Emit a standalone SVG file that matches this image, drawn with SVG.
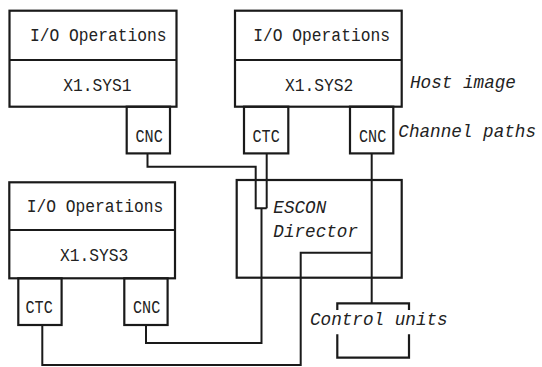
<svg xmlns="http://www.w3.org/2000/svg" width="542" height="367" viewBox="0 0 542 367">
<style>
.box{fill:none;stroke:#1a1a1a;stroke-width:2.2}
.ln{fill:none;stroke:#1a1a1a;stroke-width:2;stroke-linejoin:miter}
.t{font-family:"Liberation Mono","DejaVu Sans Mono",monospace;font-size:18.5px;fill:#222}
.i{font-family:"Liberation Mono","DejaVu Sans Mono",monospace;font-size:19px;font-style:italic;fill:#222}
</style>
<rect width="542" height="367" fill="#fff"/>
<g id="connectors">
<path class="ln" d="M147.5 153.3 V166.7 H255.7 V208.3 H266.7"/>
<path class="ln" d="M266.7 153.3 V208.3"/>
<path class="ln" d="M146 325 V343 H261.5 V208.3"/>
<path class="ln" d="M371.7 153.3 V303.3"/>
<path class="ln" d="M371.7 252.7 H300.7 V365 H42.3 V325"/>
</g>
<g id="host1">
<rect class="box" x="9.5" y="10.7" width="167" height="96"/>
<line class="box" x1="9.5" y1="60" x2="176.5" y2="60"/>
<text class="t" transform="translate(30,40.7) scale(0.88,1)">I/O Operations</text>
<text class="t" transform="translate(63.3,91) scale(0.88,1)">X1.SYS1</text>
</g>
<g id="cnc1">
<rect class="box" x="126.7" y="106.7" width="43.3" height="46.7"/>
<text class="t" transform="translate(135.5,141.7) scale(0.82,1)">CNC</text>
</g>
<g id="host2">
<rect class="box" x="235" y="10.7" width="166.7" height="96"/>
<line class="box" x1="235" y1="60" x2="401.7" y2="60"/>
<text class="t" transform="translate(253.3,40.7) scale(0.88,1)">I/O Operations</text>
<text class="t" transform="translate(285,91) scale(0.88,1)">X1.SYS2</text>
</g>
<g id="ctc2">
<rect class="box" x="244" y="106.7" width="44.3" height="46.7"/>
<text class="t" transform="translate(252.5,141.7) scale(0.82,1)">CTC</text>
</g>
<g id="cnc2">
<rect class="box" x="350" y="106.7" width="43.3" height="46.7"/>
<text class="t" transform="translate(359,141.7) scale(0.82,1)">CNC</text>
</g>
<g id="host3">
<rect class="box" x="9.3" y="182.3" width="165.7" height="96"/>
<line class="box" x1="9.3" y1="230" x2="175" y2="230"/>
<text class="t" transform="translate(26.7,211.7) scale(0.88,1)">I/O Operations</text>
<text class="t" transform="translate(60,261) scale(0.88,1)">X1.SYS3</text>
</g>
<g id="ctc3">
<rect class="box" x="18.3" y="278.3" width="43.3" height="46.7"/>
<text class="t" transform="translate(25.5,313) scale(0.82,1)">CTC</text>
</g>
<g id="cnc3">
<rect class="box" x="124.3" y="278.3" width="43.3" height="46.7"/>
<text class="t" transform="translate(133,313) scale(0.82,1)">CNC</text>
</g>
<g id="director">
<rect class="box" x="236.7" y="180" width="165" height="97.7"/>
<text class="i" transform="translate(273.3,213.3) scale(0.93,1)">ESCON</text>
<text class="i" transform="translate(273.3,236.7) scale(0.93,1)">Director</text>
</g>
<g id="control-units">
<path class="box" d="M337.3 310 V303.3 H409 V310 M337.3 334.3 V357.7 H409 V334.3"/>
<text class="i" transform="translate(310,325) scale(0.93,1)">Control units</text>
</g>
<g id="labels">
<text class="i" transform="translate(410,87.5) scale(0.93,1)">Host image</text>
<text class="i" transform="translate(398.3,137) scale(0.93,1)">Channel paths</text>
</g>
</svg>
